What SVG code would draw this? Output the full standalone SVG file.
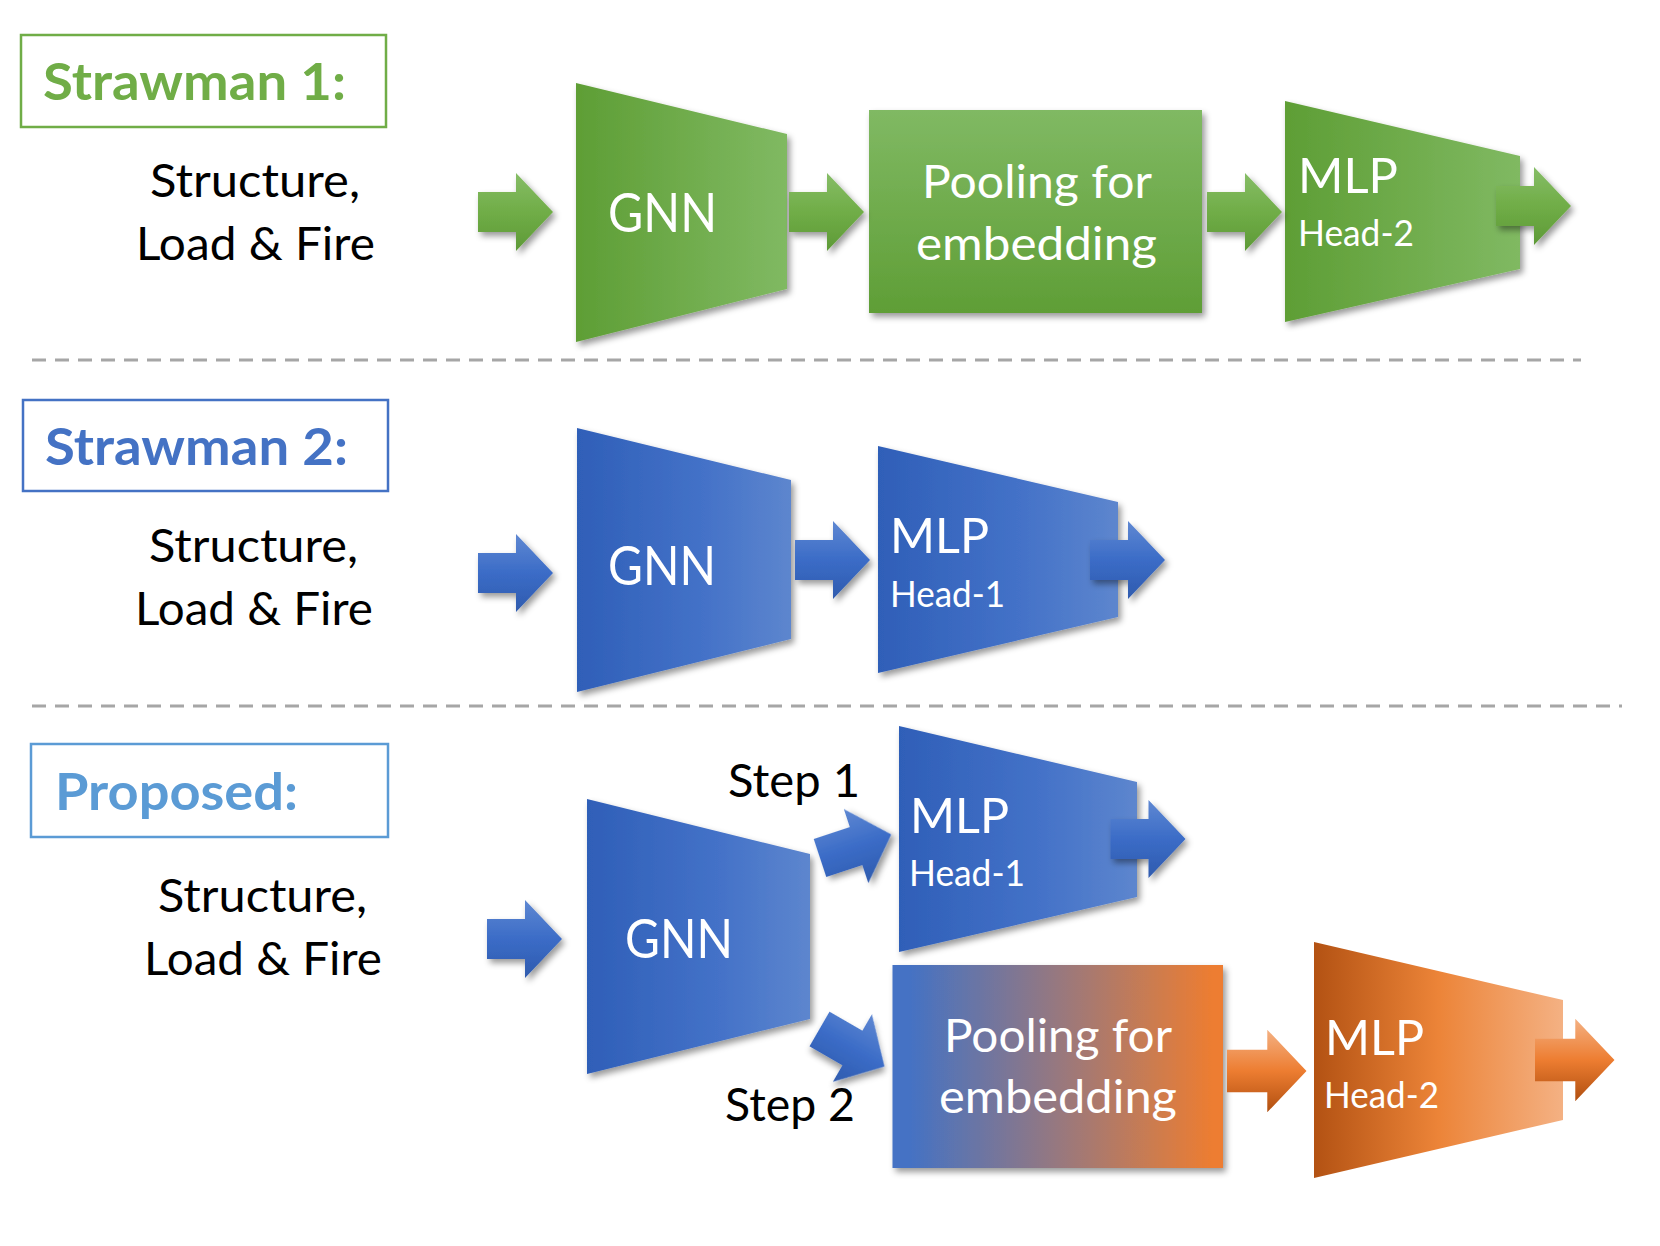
<svg xmlns="http://www.w3.org/2000/svg" width="1660" height="1246" viewBox="0 0 1660 1246">
<style>
.lbl{font-family:Lato,"Open Sans","Liberation Sans",sans-serif;font-weight:bold;font-size:52px}
.txt{font-family:Lato,"Open Sans","Liberation Sans",sans-serif;font-size:47px;fill:#000}
.wt{font-family:Lato,"Open Sans","Liberation Sans",sans-serif;fill:#fff}
.big{font-size:54px}
.mid{font-size:48px}
.sm{font-size:36px}
.pool{font-size:46px}
.dash{stroke:#A6A6A6;stroke-width:3;stroke-dasharray:14 9;fill:none}
</style>
<defs>
<filter id="sh" x="-20%" y="-20%" width="150%" height="150%">
<feDropShadow dx="3" dy="4" stdDeviation="3" flood-color="#000" flood-opacity="0.4"/>
</filter>
<linearGradient id="gH" x1="0" y1="0" x2="1" y2="0"><stop offset="0" stop-color="#5E9E35"/><stop offset="1" stop-color="#80B962"/></linearGradient>
<linearGradient id="gV" x1="0" y1="0" x2="0" y2="1"><stop offset="0" stop-color="#80B963"/><stop offset="1" stop-color="#5F9E36"/></linearGradient>
<linearGradient id="bH" x1="0" y1="0" x2="1" y2="0"><stop offset="0" stop-color="#2F5FB8"/><stop offset="0.6" stop-color="#4472C8"/><stop offset="1" stop-color="#5D86CE"/></linearGradient>
<linearGradient id="pH" x1="0" y1="0" x2="1" y2="0"><stop offset="0.05" stop-color="#4472C4"/><stop offset="0.5" stop-color="#97787F"/><stop offset="0.97" stop-color="#ED7D31"/></linearGradient>
<linearGradient id="oH" x1="0" y1="0" x2="1" y2="0"><stop offset="0" stop-color="#B35213"/><stop offset="0.5" stop-color="#EC8438"/><stop offset="1" stop-color="#F4B183"/></linearGradient>
<linearGradient id="gA" x1="0" y1="0" x2="0" y2="1"><stop offset="0" stop-color="#86BD67"/><stop offset="0.5" stop-color="#70AD47"/><stop offset="1" stop-color="#5E9A37"/></linearGradient>
<linearGradient id="bA" x1="0" y1="0" x2="0" y2="1"><stop offset="0" stop-color="#5F88D2"/><stop offset="0.5" stop-color="#3B6CC7"/><stop offset="1" stop-color="#2F5BAE"/></linearGradient>
<linearGradient id="oA" x1="0" y1="0" x2="0" y2="1"><stop offset="0" stop-color="#F4B183"/><stop offset="0.5" stop-color="#ED7D31"/><stop offset="1" stop-color="#B04F10"/></linearGradient>
<path id="arr" d="M0,-20 H38 V-39 L75,0 L38,39 V20 H0 Z"/>
</defs>

<rect width="1660" height="1246" fill="#fff"/>

<g id="separators">
<line class="dash" x1="32" y1="360" x2="1581" y2="360"/>
<line class="dash" x1="32" y1="706" x2="1622" y2="706"/>
</g>

<!-- Strawman 1 -->
<g id="label-strawman1">
<rect x="21" y="35" width="365" height="92" fill="none" stroke="#70AD47" stroke-width="2.5"/>
<text class="lbl" x="43" y="100" fill="#70AD47" textLength="303" lengthAdjust="spacingAndGlyphs">Strawman 1:</text>
</g>
<g id="input-1">
<text class="txt" x="150" y="197" textLength="210" lengthAdjust="spacingAndGlyphs">Structure,</text>
<text class="txt" x="136" y="260" textLength="239" lengthAdjust="spacingAndGlyphs">Load &amp; Fire</text>
</g>
<g id="gnn-1">
<polygon points="576,83 787,134 787,289 576,342" fill="url(#gH)" filter="url(#sh)"/>
<text class="wt big" x="608" y="232" textLength="109" lengthAdjust="spacingAndGlyphs">GNN</text>
</g>
<g id="pool-1">
<rect x="869" y="110" width="333" height="203" fill="url(#gV)" filter="url(#sh)"/>
<text class="wt pool" x="922" y="198" textLength="230" lengthAdjust="spacingAndGlyphs">Pooling for</text>
<text class="wt pool" x="916" y="260" textLength="241" lengthAdjust="spacingAndGlyphs">embedding</text>
</g>
<g id="mlp-head2-1">
<polygon points="1285,101 1520,156 1520,269 1285,322" fill="url(#gH)" filter="url(#sh)"/>
<text class="wt mid" x="1298" y="193" textLength="100" lengthAdjust="spacingAndGlyphs">MLP</text>
<text class="wt sm" x="1298" y="246" textLength="116" lengthAdjust="spacingAndGlyphs">Head-2</text>
</g>

<!-- Strawman 2 -->
<g id="label-strawman2">
<rect x="23" y="400" width="365" height="91" fill="none" stroke="#4472C4" stroke-width="2.5"/>
<text class="lbl" x="45" y="465" fill="#4472C4" textLength="303" lengthAdjust="spacingAndGlyphs">Strawman 2:</text>
</g>
<g id="input-2">
<text class="txt" x="149" y="562" textLength="209" lengthAdjust="spacingAndGlyphs">Structure,</text>
<text class="txt" x="135" y="625" textLength="238" lengthAdjust="spacingAndGlyphs">Load &amp; Fire</text>
</g>
<g id="gnn-2">
<polygon points="577,428 791,480 791,639 577,692" fill="url(#bH)" filter="url(#sh)"/>
<text class="wt big" x="608" y="585" textLength="108" lengthAdjust="spacingAndGlyphs">GNN</text>
</g>
<g id="mlp-head1-2">
<polygon points="878,446 1118,502 1118,617 878,673" fill="url(#bH)" filter="url(#sh)"/>
<text class="wt mid" x="890" y="553" textLength="99" lengthAdjust="spacingAndGlyphs">MLP</text>
<text class="wt sm" x="890" y="607" textLength="115" lengthAdjust="spacingAndGlyphs">Head-1</text>
</g>

<!-- Proposed -->
<g id="label-proposed">
<rect x="31" y="744" width="357" height="93" fill="none" stroke="#5B9BD5" stroke-width="2.5"/>
<text class="lbl" x="55" y="810" fill="#5B9BD5" textLength="243" lengthAdjust="spacingAndGlyphs">Proposed:</text>
</g>
<g id="input-3">
<text class="txt" x="158" y="912" textLength="209" lengthAdjust="spacingAndGlyphs">Structure,</text>
<text class="txt" x="144" y="975" textLength="238" lengthAdjust="spacingAndGlyphs">Load &amp; Fire</text>
</g>
<g id="gnn-3">
<polygon points="587,799 810,854 810,1019 587,1074" fill="url(#bH)" filter="url(#sh)"/>
<text class="wt big" x="625" y="958" textLength="108" lengthAdjust="spacingAndGlyphs">GNN</text>
</g>
<g id="mlp-head1-3">
<polygon points="899,726 1137,782 1137,897 899,952" fill="url(#bH)" filter="url(#sh)"/>
<text class="wt mid" x="910" y="833" textLength="99" lengthAdjust="spacingAndGlyphs">MLP</text>
<text class="wt sm" x="909" y="886" textLength="116" lengthAdjust="spacingAndGlyphs">Head-1</text>
</g>
<g id="pool-3">
<rect x="892.5" y="965" width="330.5" height="203" fill="url(#pH)" filter="url(#sh)"/>
<text class="wt pool" x="944" y="1052" textLength="228" lengthAdjust="spacingAndGlyphs">Pooling for</text>
<text class="wt pool" x="939" y="1113" textLength="238" lengthAdjust="spacingAndGlyphs">embedding</text>
</g>
<g id="mlp-head2-3">
<polygon points="1314,942 1563,1000 1563,1120 1314,1178" fill="url(#oH)"/>
<text class="wt mid" x="1325" y="1055" textLength="99" lengthAdjust="spacingAndGlyphs">MLP</text>
<text class="wt sm" x="1324" y="1108" textLength="115" lengthAdjust="spacingAndGlyphs">Head-2</text>
</g>
<g id="step-labels">
<text class="txt" x="728" y="797" textLength="132" lengthAdjust="spacingAndGlyphs">Step 1</text>
<text class="txt" x="725" y="1121" textLength="130" lengthAdjust="spacingAndGlyphs">Step 2</text>
</g>

<g id="connectors">
<use href="#arr" fill="url(#gA)" filter="url(#sh)" transform="translate(478,212)"/>
<use href="#arr" fill="url(#gA)" filter="url(#sh)" transform="translate(789,212)"/>
<use href="#arr" fill="url(#gA)" filter="url(#sh)" transform="translate(1207,212)"/>
<use href="#arr" fill="url(#gA)" filter="url(#sh)" transform="translate(1496,206)"/>
<use href="#arr" fill="url(#bA)" filter="url(#sh)" transform="translate(478,573)"/>
<use href="#arr" fill="url(#bA)" filter="url(#sh)" transform="translate(795,560)"/>
<use href="#arr" fill="url(#bA)" filter="url(#sh)" transform="translate(1090,560)"/>
<use href="#arr" fill="url(#bA)" filter="url(#sh)" transform="translate(487,939)"/>
<use href="#arr" fill="url(#bA)" filter="url(#sh)" transform="translate(820,858) rotate(-18.3)"/>
<use href="#arr" fill="url(#bA)" filter="url(#sh)" transform="translate(819.5,1029) rotate(30)"/>
<use href="#arr" fill="url(#bA)" filter="url(#sh)" transform="translate(1110.5,839)"/>
<use href="#arr" fill="url(#oA)" transform="translate(1227,1071) scale(1.06)"/>
<use href="#arr" fill="url(#oA)" transform="translate(1535,1060) scale(1.06)"/>
</g>
</svg>
